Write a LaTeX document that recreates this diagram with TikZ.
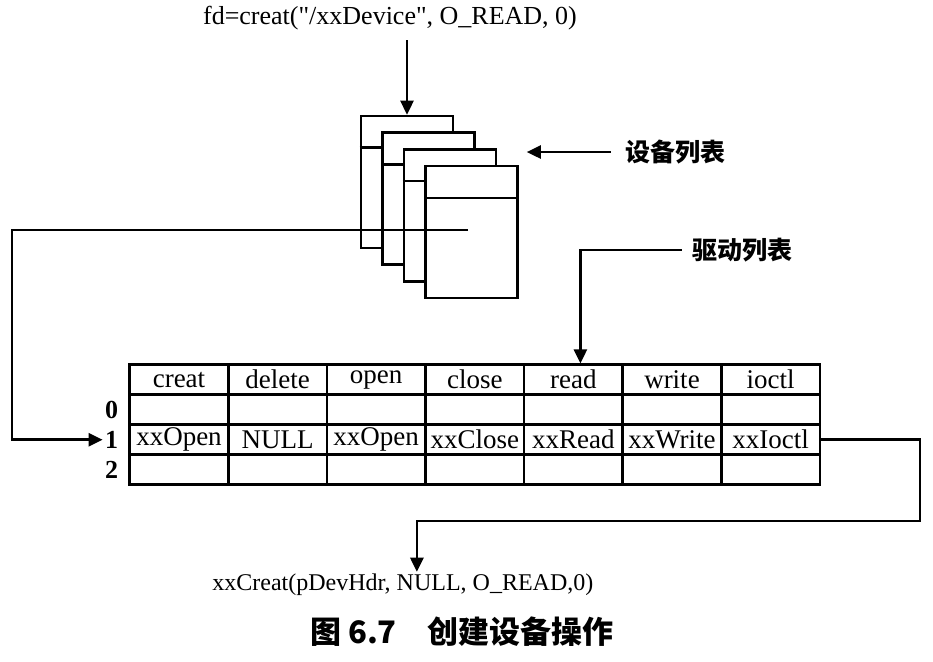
\documentclass[tikz,border=0pt]{standalone}
\usepackage{fontspec}
\setmainfont{Liberation Serif}[Ligatures=TeXOff]
\newfontfamily\cjk{Noto Sans CJK SC}
\usetikzlibrary{positioning,arrows.meta,calc,matrix}
\tikzset{
  card/.style={draw, fill=white, line width=1.3pt, minimum width=46pt, minimum height=66pt,
               inner sep=0pt},
  wire/.style={line width=1.3pt},
  ptr/.style={wire, -{Triangle[length=7pt,width=6.5pt]}},
  call/.style={font=\fontsize{13}{15}\selectfont, inner sep=1pt},
  cjklbl/.style={font=\cjk\bfseries\fontsize{12.5}{14}\selectfont, inner sep=1pt},
  drvtab/.style={matrix of nodes, ampersand replacement=\amp, inner sep=0pt,
                 column sep=-1.3pt, row sep=-1.3pt,
                 nodes={draw, line width=1.3pt, minimum width=49.3pt, minimum height=15pt,
                        inner sep=0pt, anchor=center, font=\fontsize{13.5}{15}\selectfont}},
  rowlbl/.style={font=\bfseries\fontsize{13}{15}\selectfont, inner sep=1pt}
}
\begin{document}
\begin{tikzpicture}[x=0.5pt, y=-0.5pt]
\useasboundingbox (0,0) rectangle (933,661);
% device list: stacked cards
\foreach \i in {1,...,4} {
  \node[card] (card\i) at ({407+21.5*(\i-1)},{182+16.7*(\i-1)}) {};
  \draw[wire] ($(card\i.north west)+(0,33)$) -- ($(card\i.north east)+(0,33)$);
}
\node[call] (fdcall) at (390,18) {fd=creat("/xxDevice", O\_READ, 0)};
\node[cjklbl] (devlist) at (675,152) {设备列表};
\node[cjklbl] (drvlist) at (742,250) {驱动列表};
% driver table
\matrix (drv) [drvtab, anchor=north west] at (128,363) {
  creat \amp delete \amp open \amp close \amp read \amp write \amp ioctl \\
  {} \amp {} \amp {} \amp {} \amp {} \amp {} \amp {} \\
  xxOpen \amp NULL \amp xxOpen \amp xxClose \amp xxRead \amp xxWrite \amp xxIoctl \\
  {} \amp {} \amp {} \amp {} \amp {} \amp {} \amp {} \\
};
\node[rowlbl, left=4pt of drv-2-1] (r0) {0};
\node[rowlbl, left=4pt of drv-3-1] (r1) {1};
\node[rowlbl, left=4pt of drv-4-1] (r2) {2};
\node[call, anchor=west, font=\fontsize{12}{14}\selectfont] (xxcreat) at (210,585) {xxCreat(pDevHdr, NULL, O\_READ,0)};
\node[font=\cjk\bfseries\fontsize{15.5}{17}\selectfont] (caption) at (462,632) {图 6.7\quad 创建设备操作};
% connectors
\coordinate (devsel) at (468,230);
\coordinate (bendL) at (12,230);
\coordinate (bendR) at (920,521);
\draw[ptr] ([yshift=-4pt]fdcall.south -| card1.north) -- (card1.north);
\draw[ptr] ([xshift=-6pt]devlist.west) -- ($(card4.east |- devlist.west)+(8,0)$);
\draw[ptr] ([xshift=-4pt]drvlist.west) -| ($(drv-1-5.north)+(7,0)$);
\draw[ptr] (devsel) -- (bendL) |- (r1.west);
\draw[ptr] (drv-3-7.east) -| (bendR) -| ([xshift=7pt]xxcreat.north);
\end{tikzpicture}
\end{document}
